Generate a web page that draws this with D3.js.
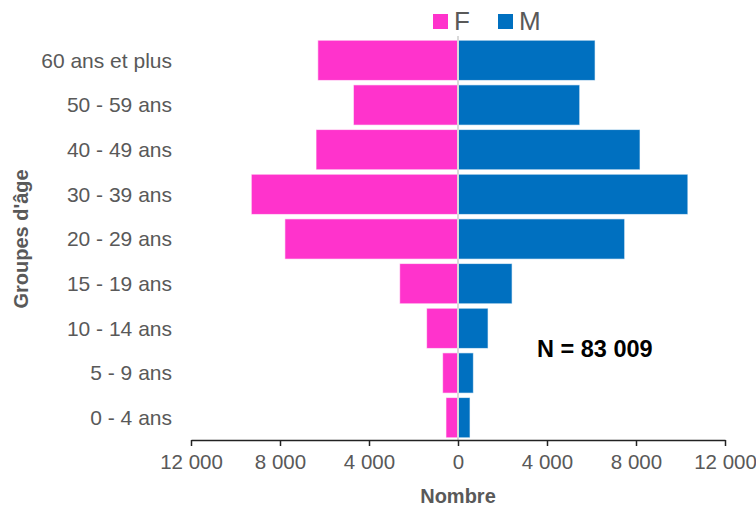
<!DOCTYPE html>
<html>
<head>
<meta charset="utf-8">
<script src="https://cdn.jsdelivr.net/npm/d3@7"></script>
<style>
  body { margin: 0; background: #fff; }
  text { font-family: "Liberation Sans", Arial, sans-serif; }
</style>
</head>
<body>
<div id="chart"></div>
<script>
// age groups, top to bottom
const ageGroups = ['60 ans et plus', '50 - 59 ans', '40 - 49 ans', '30 - 39 ans', '20 - 29 ans', '15 - 19 ans', '10 - 14 ans', '5 - 9 ans', '0 - 4 ans'];
const femmes = [6300, 4700, 6380, 9290, 7780, 2620, 1410, 690, 540];
const hommes = [6160, 5470, 8180, 10330, 7490, 2430, 1350, 690, 540];
const xTicks = [-12000, -8000, -4000, 0, 4000, 8000, 12000];

const W = 756, H = 511;
const grey = '#595959';
const pink = '#FF33CC', blue = '#0070C0';

const svg = d3.select('#chart').append('svg')
    .attr('width', W)
    .attr('height', H);

const x = d3.scaleLinear()
    .domain([-12000, 12000])
    .range([191, 725]);

const y = d3.scaleBand()
    .domain(ageGroups)
    .range([38, 440])
    .paddingInner(0.1)
    .paddingOuter(0.05);

const fmt = v => d3.format(',')(Math.abs(v)).replace(/,/g, ' ');

// bars F (left)
svg.selectAll('.barF')
    .data(ageGroups)
    .join('rect')
    .attr('class', 'barF')
    .attr('x', (d, i) => x(-femmes[i]))
    .attr('y', d => y(d))
    .attr('width', (d, i) => x(0) - x(-femmes[i]))
    .attr('height', y.bandwidth())
    .attr('fill', pink)
    .attr('stroke', '#fff')
    .attr('stroke-opacity', 0.6)
    .attr('stroke-width', 1);

// bars M (right)
svg.selectAll('.barM')
    .data(ageGroups)
    .join('rect')
    .attr('class', 'barM')
    .attr('x', x(0))
    .attr('y', d => y(d))
    .attr('width', (d, i) => x(hommes[i]) - x(0))
    .attr('height', y.bandwidth())
    .attr('fill', blue)
    .attr('stroke', '#fff')
    .attr('stroke-opacity', 0.6)
    .attr('stroke-width', 1);

// centre line
svg.append('line')
    .attr('x1', x(0)).attr('x2', x(0))
    .attr('y1', 36).attr('y2', 440)
    .attr('stroke', '#d9d9d9')
    .attr('stroke-width', 2);

// x axis
const xAxis = svg.append('g')
    .attr('transform', 'translate(0, 440)')
    .call(d3.axisBottom(x).tickValues(xTicks).tickFormat(fmt).tickSize(6).tickSizeOuter(0).tickPadding(8));
xAxis.select('.domain').attr('stroke', '#222').attr('stroke-width', 1.5);
xAxis.selectAll('.tick line').attr('stroke', '#222').attr('stroke-width', 1.5);
xAxis.selectAll('.tick text')
    .attr('fill', grey)
    .style('font-size', '20.5px')
    .style('font-family', '"Liberation Sans", Arial, sans-serif');

// category labels
svg.selectAll('.ageLabel')
    .data(ageGroups)
    .join('text')
    .attr('class', 'ageLabel')
    .attr('x', 172)
    .attr('y', d => y(d) + y.bandwidth() / 2)
    .attr('dy', '0.35em')
    .attr('text-anchor', 'end')
    .attr('fill', grey)
    .style('font-size', '21px')
    .text(d => d);

// axis titles
svg.append('text')
    .attr('x', x(0))
    .attr('y', 503)
    .attr('text-anchor', 'middle')
    .attr('fill', grey)
    .style('font-size', '20px')
    .style('font-weight', 'bold')
    .text('Nombre');

svg.append('text')
    .attr('transform', 'translate(28, 239) rotate(-90)')
    .attr('text-anchor', 'middle')
    .attr('fill', grey)
    .style('font-size', '20px')
    .style('font-weight', 'bold')
    .text("Groupes d'âge");

// N label
svg.append('text')
    .attr('x', 537)
    .attr('y', 357)
    .attr('fill', '#000')
    .style('font-size', '23.5px')
    .style('font-weight', 'bold')
    .text('N = 83 009');

// legend
const legend = [{name: 'F', color: pink, x: 433}, {name: 'M', color: blue, x: 498}];
const lg = svg.selectAll('.legend')
    .data(legend)
    .join('g')
    .attr('class', 'legend')
    .attr('transform', d => `translate(${d.x}, 14)`);
lg.append('rect')
    .attr('width', 15)
    .attr('height', 15)
    .attr('fill', d => d.color);
lg.append('text')
    .attr('x', 21)
    .attr('y', 16)
    .attr('fill', grey)
    .style('font-size', '26px')
    .text(d => d.name);
</script>
</body>
</html>
